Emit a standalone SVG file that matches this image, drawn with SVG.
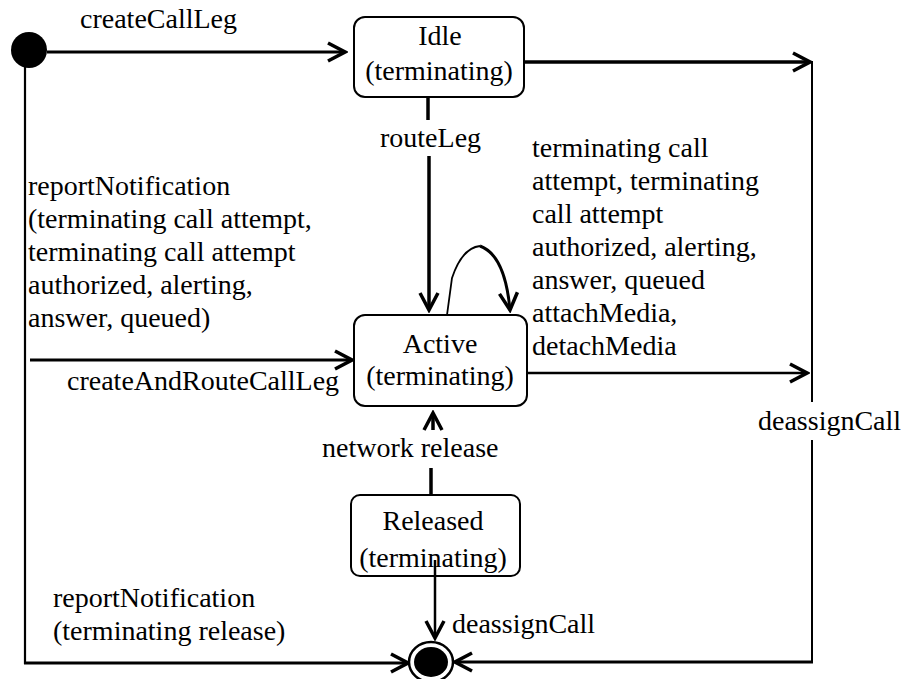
<svg xmlns="http://www.w3.org/2000/svg" width="903" height="679" viewBox="0 0 903 679">
<style>
text{font-family:"Liberation Serif","Times New Roman",serif;font-size:28px;fill:#000}
.c{text-anchor:middle}
.box{fill:#fff;stroke:#000;stroke-width:2}
.ln{fill:none;stroke:#000}
</style>
<defs>
<marker id="arr" viewBox="-21 -13 24 26" refX="0" refY="0" markerWidth="24" markerHeight="26" markerUnits="userSpaceOnUse" orient="auto">
<path d="M-17,-9 L0,0 L-17,9" fill="none" stroke="#000" stroke-width="3.5" stroke-linejoin="miter"/>
</marker>
</defs>
<rect width="903" height="679" fill="#fff"/>
<g id="connectors">
<path class="ln" d="M47,52 L345,52" stroke-width="3" marker-end="url(#arr)"/>
<path class="ln" d="M25,66 L25,664" stroke-width="2.2"/>
<path class="ln" d="M24,663 L408,663" stroke-width="3" marker-end="url(#arr)"/>
<path class="ln" d="M524,62 L810,62" stroke-width="3.5" marker-end="url(#arr)"/>
<path class="ln" d="M812,61 L812,402 M812,440 L812,662" stroke-width="2"/>
<path class="ln" d="M813,662 L455,662" stroke-width="3" marker-end="url(#arr)"/>
<path class="ln" d="M428,97 L428,120" stroke-width="3.5"/>
<path class="ln" d="M429,156 L429,310" stroke-width="3.5" marker-end="url(#arr)"/>
<path class="ln" d="M30,360 L352,360" stroke-width="3" marker-end="url(#arr)"/>
<path class="ln" d="M447,315 L452,278 Q462,248 480,246" stroke-width="1.8"/>
<path class="ln" d="M480,246 Q505,255 510,310" stroke-width="3" marker-end="url(#arr)"/>
<path class="ln" d="M527,373 L807,373" stroke-width="2.5" marker-end="url(#arr)"/>
<path class="ln" d="M431,495 L431,468" stroke-width="3.5"/>
<path class="ln" d="M433,430 L433,413" stroke-width="3.5" marker-end="url(#arr)"/>
<path class="ln" d="M435,560 L435,638" stroke-width="2.5" marker-end="url(#arr)"/>
</g>
<g id="labels">
<text x="80" y="28">createCallLeg</text>
<text x="380" y="147">routeLeg</text>
<text x="28" y="195">reportNotification</text>
<text x="28" y="228">(terminating call attempt,</text>
<text x="28" y="261">terminating call attempt</text>
<text x="28" y="294">authorized, alerting,</text>
<text x="28" y="327">answer, queued)</text>
<text x="67" y="390">createAndRouteCallLeg</text>
<text x="532" y="157">terminating call</text>
<text x="532" y="190">attempt, terminating</text>
<text x="532" y="223">call attempt</text>
<text x="532" y="256">authorized, alerting,</text>
<text x="532" y="289">answer, queued</text>
<text x="532" y="322">attachMedia,</text>
<text x="532" y="355">detachMedia</text>
<text x="758" y="430">deassignCall</text>
<text x="322" y="457">network release</text>
<text x="53" y="607">reportNotification</text>
<text x="53" y="640">(terminating release)</text>
<text x="452" y="633">deassignCall</text>
</g>
<g id="initial">
<circle cx="29" cy="50" r="18" fill="#000"/>
</g>
<g id="idle">
<rect class="box" x="354" y="17" width="170" height="80" rx="11"/>
<text class="c" x="440" y="45">Idle</text>
<text class="c" x="439" y="80">(terminating)</text>
</g>
<g id="active">
<rect class="box" x="354" y="315" width="173" height="91" rx="11"/>
<text class="c" x="440" y="353">Active</text>
<text class="c" x="440" y="385">(terminating)</text>
</g>
<g id="released">
<rect class="box" x="351" y="495" width="169" height="81" rx="9"/>
<text class="c" x="433" y="530">Released</text>
<text class="c" x="433" y="567">(terminating)</text>
</g>
<path class="ln" d="M435,560 L435,576" stroke-width="2.5"/>
<g id="final">
<ellipse cx="431" cy="662" rx="22" ry="20" fill="#fff" stroke="#000" stroke-width="2.5"/>
<ellipse cx="431" cy="662" rx="17" ry="15" fill="#000"/>
</g>
</svg>
